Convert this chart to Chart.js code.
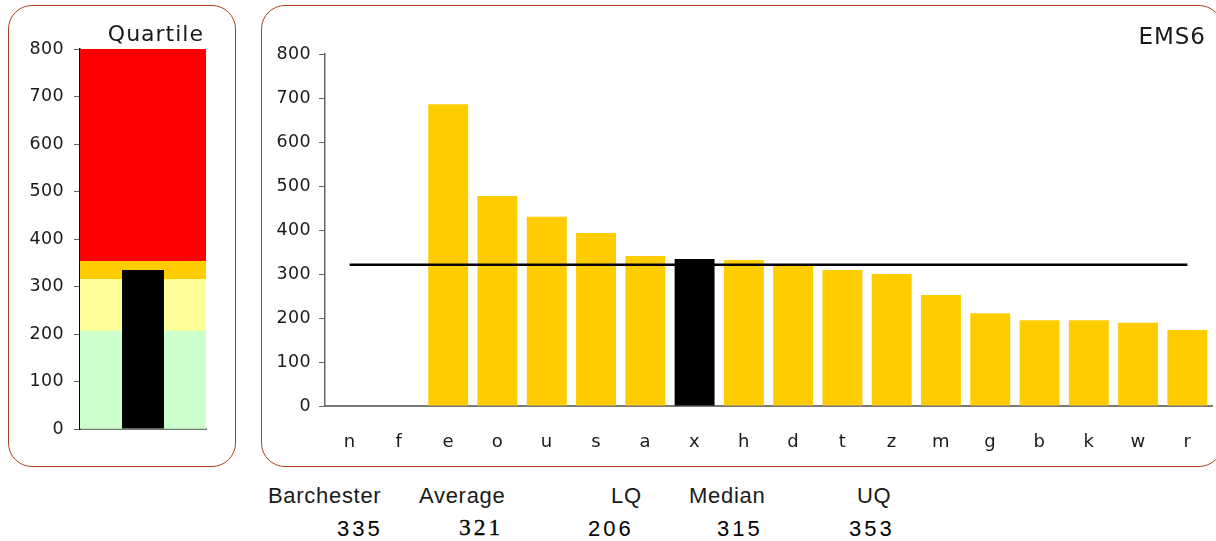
<!DOCTYPE html>
<html>
<head>
<meta charset="utf-8">
<script src="https://cdn.jsdelivr.net/npm/chart.js@4"></script>
<style>
  html, body { margin:0; padding:0; background:#fff; }
  body { width:1216px; height:541px; position:relative; overflow:hidden; font-family:"DejaVu Sans", sans-serif; color:#1a1a1a; }
  .panel { position:absolute; border:1.5px solid #a5461c; border-radius:24px; box-sizing:border-box; }
  .cv { position:absolute; }
  .t { position:absolute; white-space:nowrap; }
</style>
</head>
<body>
<div class="panel" style="left:8px;top:5px;width:228px;height:462px;"></div>
<div class="panel" style="left:261px;top:5px;width:962px;height:462px;"></div>
<div class="cv" style="left:0;top:0;width:240px;height:470px;"><canvas id="q"></canvas></div>
<div class="cv" style="left:262px;top:6px;width:954px;height:460px;"><canvas id="m"></canvas></div>
<div class="t" id="qt" style="right:1012px;top:21px;font-size:22px;letter-spacing:1px;">Quartile</div>
<div class="t" id="et" style="right:10px;top:23px;font-size:23px;letter-spacing:1px;">EMS6</div>
<div id="stats"></div>
<script>
// ---- data ----
const categories = ["n","f","e","o","u","s","a","x","h","d","t","z","m","g","b","k","w","r"];
const values = [null,null,686,477,430,393,341,334,332,321,309,300,252,211,195,195,189,173];
const highlightCategory = "x";
const averageValue = 321;
const barchesterValue = 335;
const lowerQuartile = 206;
const medianValue = 315;
const upperQuartile = 353;
const axisMax = 800;
const yTicks = [0,100,200,300,400,500,600,700,800];
const statLabels = ["Barchester","Average","LQ","Median","UQ"];
const statValues = [barchesterValue, averageValue, lowerQuartile, medianValue, upperQuartile];

const FONT = "'DejaVu Sans', sans-serif";
const spacingPlugin = {
  id: 'spacing',
  beforeLayout(c){ c.ctx.letterSpacing = '0.4px'; },
  beforeDraw(c){ c.ctx.letterSpacing = '0.4px'; },
  beforeDatasetsDraw(c){ c.ctx.letterSpacing = '0.4px'; }
};

// ---- Quartile chart ----
new Chart(document.getElementById('q'), {
  type: 'bar',
  data: {
    labels: [''],
    datasets: [
      { data: [barchesterValue], backgroundColor: '#000000', barPercentage: 0.333, categoryPercentage: 1, grouped: false },
      { data: [[0, lowerQuartile]], backgroundColor: '#CCFFCC', barPercentage: 1, categoryPercentage: 1, grouped: false },
      { data: [[lowerQuartile, medianValue]], backgroundColor: '#FFFF99', barPercentage: 1, categoryPercentage: 1, grouped: false },
      { data: [[medianValue, upperQuartile]], backgroundColor: '#FFCC00', barPercentage: 1, categoryPercentage: 1, grouped: false },
      { data: [[upperQuartile, axisMax]], backgroundColor: '#FF0000', barPercentage: 1, categoryPercentage: 1, grouped: false }
    ]
  },
  options: {
    responsive: true, maintainAspectRatio: false, animation: false,
    layout: { padding: { left: 0, right: 34, top: 49, bottom: 0 } },
    plugins: { legend: { display: false }, tooltip: { enabled: false } },
    scales: {
      x: {
        afterFit(s){ s.height = 41; },
        ticks: { display: false },
        grid: { display: false },
        border: { color: '#777777', width: 2 }
      },
      y: {
        min: 0, max: axisMax,
        afterFit(s){ s.width = 80; },
        afterBuildTicks(s){ s.ticks = yTicks.map(v => ({ value: v })); },
        ticks: { color: '#1a1a1a', font: { family: FONT, size: 17.5 }, padding: 10 },
        grid: { drawOnChartArea: false, drawTicks: true, tickLength: 6, color: '#666666' },
        border: { color: '#000000', width: 1.5 }
      }
    }
  },
  plugins: [spacingPlugin]
});

// ---- Main chart ----
new Chart(document.getElementById('m'), {
  type: 'bar',
  data: {
    labels: categories,
    datasets: [
      { type: 'line', data: categories.map(() => averageValue), borderColor: '#000000', borderWidth: 2.5, pointRadius: 0, fill: false, order: 0 },
      { type: 'bar', data: values, backgroundColor: categories.map(c => c === highlightCategory ? '#000000' : '#FFCC00'),
        barPercentage: 0.81, categoryPercentage: 1, order: 1 }
    ]
  },
  options: {
    responsive: true, maintainAspectRatio: false, animation: false,
    layout: { padding: { left: 0, right: 4, top: 48, bottom: 0 } },
    plugins: { legend: { display: false }, tooltip: { enabled: false } },
    scales: {
      x: {
        afterFit(s){ s.height = 60; },
        ticks: { color: '#1a1a1a', font: { family: FONT, size: 18 }, padding: 18, maxRotation: 0, autoSkip: false },
        grid: { display: false },
        border: { color: '#777777', width: 2 }
      },
      y: {
        min: 0, max: axisMax,
        afterFit(s){ s.width = 63; },
        afterBuildTicks(s){ s.ticks = yTicks.map(v => ({ value: v })); },
        ticks: { color: '#1a1a1a', font: { family: FONT, size: 17.5 }, padding: 8 },
        grid: { drawOnChartArea: false, drawTicks: true, tickLength: 6, color: '#666666' },
        border: { color: '#666666', width: 1.5 }
      }
    }
  },
  plugins: [spacingPlugin]
});

// ---- stats text ----
const labelPos = [268, 419, 611, 689, 857];
const valuePos = [337, 459, 588, 717, 849];
const stats = document.getElementById('stats');
statLabels.forEach((l, i) => {
  const d = document.createElement('div');
  d.className = 't';
  d.style.cssText = `left:${labelPos[i]}px;top:483px;font-family:'Liberation Sans',sans-serif;font-size:22px;letter-spacing:0.7px;color:#1a1a1a;`;
  d.textContent = l;
  stats.appendChild(d);
  const v = document.createElement('div');
  v.className = 't';
  const serif = i === 1;
  v.style.cssText = `left:${valuePos[i]}px;top:${serif ? 514 : 516}px;font-family:${serif ? "'Liberation Serif',serif" : "'Liberation Sans',sans-serif"};font-size:${serif ? 23.5 : 22}px;letter-spacing:3px;color:#000;${serif ? '-webkit-text-stroke:0.3px #000;' : ''}`;
  v.textContent = String(statValues[i]);
  stats.appendChild(v);
});
</script>
</body>
</html>
